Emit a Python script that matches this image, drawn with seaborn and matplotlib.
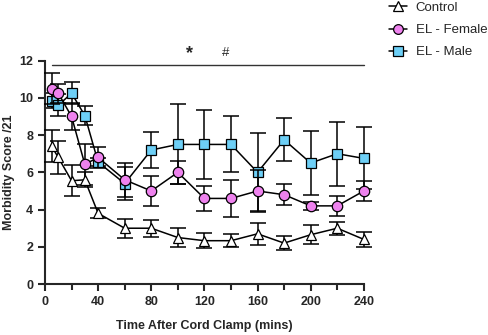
import numpy as np
import pandas as pd
import seaborn as sns
import matplotlib.pyplot as plt
from matplotlib.ticker import MultipleLocator
from matplotlib.lines import Line2D

time = [5, 10, 20, 30, 40, 60, 80, 100, 120, 140, 160, 180, 200, 220, 240]

control = [7.4, 6.8, 5.55, 5.6, 3.8, 3.0, 3.0, 2.5, 2.33, 2.33, 2.7, 2.2, 2.65, 3.0, 2.4]
control_err = [0.85, 0.9, 0.82, 0.4, 0.27, 0.5, 0.45, 0.5, 0.4, 0.35, 0.6, 0.37, 0.5, 0.35, 0.4]

female = [10.5, 10.25, 9.0, 6.43, 6.8, 5.6, 5.0, 6.0, 4.6, 4.6, 5.0, 4.8, 4.2, 4.2, 5.0]
female_err = [0.85, 0.5, 0.7, 1.1, 0.55, 0.9, 0.8, 0.6, 0.66, 1.0, 1.13, 0.57, 0.2, 0.52, 0.55]

male = [9.85, 9.6, 10.25, 9.05, 6.55, 5.4, 7.2, 7.5, 7.5, 7.5, 6.0, 7.75, 6.5, 7.0, 6.75]
male_err = [0.4, 0.6, 0.6, 0.5, 0.2, 0.9, 0.95, 2.15, 1.85, 1.5, 2.1, 1.16, 1.7, 1.73, 1.67]

groups = ["Control", "EL - Female", "EL - Male"]
colors = {"Control": "white", "EL - Female": "#EE82EE", "EL - Male": "#6DCFF6"}
markers = {"Control": "^", "EL - Female": "o", "EL - Male": "s"}

df = pd.DataFrame({
    "time": time * 3,
    "score": control + female + male,
    "err": control_err + female_err + male_err,
    "group": ["Control"] * len(time) + ["EL - Female"] * len(time) + ["EL - Male"] * len(time),
})

sns.set_style("ticks")
plt.rcParams["font.family"] = ["Liberation Sans", "DejaVu Sans"]

fig = plt.figure(figsize=(4.89, 3.35), dpi=100)
ax = fig.add_axes([0.092, 0.152, 0.652, 0.667])

# draw order: male under female, control last
order = {"EL - Male": 2, "EL - Female": 3, "Control": 4}
for g in ["EL - Male", "EL - Female", "Control"]:
    d = df[df["group"] == g]
    ax.errorbar(d["time"], d["score"], yerr=d["err"], fmt="none", ecolor="black",
                elinewidth=1.1, capsize=5.5, capthick=1.1, zorder=order[g], clip_on=False)
    sns.lineplot(data=d, x="time", y="score", ax=ax, color="black", lw=1.1,
                 marker=markers[g], markersize=7.5 if g != "EL - Male" else 7,
                 markerfacecolor=colors[g], markeredgecolor="black", markeredgewidth=0.9,
                 zorder=order[g], clip_on=False, legend=False)

# significance bar
ax.plot([5, 240], [11.77, 11.77], color="#333333", lw=1.0, clip_on=False)
ax.text(109, 11.9, "*", ha="center", va="bottom", fontsize=13, fontweight="bold")
ax.text(136, 12.1, "#", ha="center", va="bottom", fontsize=9.5)

ax.set_xlim(0, 240)
ax.set_ylim(0, 12)
ax.xaxis.set_major_locator(MultipleLocator(40))
ax.xaxis.set_minor_locator(MultipleLocator(20))
ax.yaxis.set_major_locator(MultipleLocator(2))
sns.despine(ax=ax)
for s in ["left", "bottom"]:
    ax.spines[s].set_linewidth(1.5)
ax.tick_params(which="major", length=5, width=1.5, labelsize=9)
ax.tick_params(which="minor", length=4, width=1.5)
for lab in ax.get_xticklabels() + ax.get_yticklabels():
    lab.set_fontweight("bold")

ax.set_xlabel("Time After Cord Clamp (mins)", fontsize=9, fontweight="bold", labelpad=9)
ax.set_ylabel("Morbidity Score /21", fontsize=9, fontweight="bold", labelpad=3)

handles = [Line2D([0], [0], color="black", lw=1.1, marker=markers[g], markersize=7,
                  markerfacecolor=colors[g], markeredgecolor="black", markeredgewidth=0.9)
           for g in groups]
fig.legend(handles, groups, loc="upper left", bbox_to_anchor=(0.772, 1.03), frameon=False,
           fontsize=9.5, handlelength=1.3, handletextpad=0.7, labelspacing=0.75)

fig.savefig("out.png", dpi=100)
